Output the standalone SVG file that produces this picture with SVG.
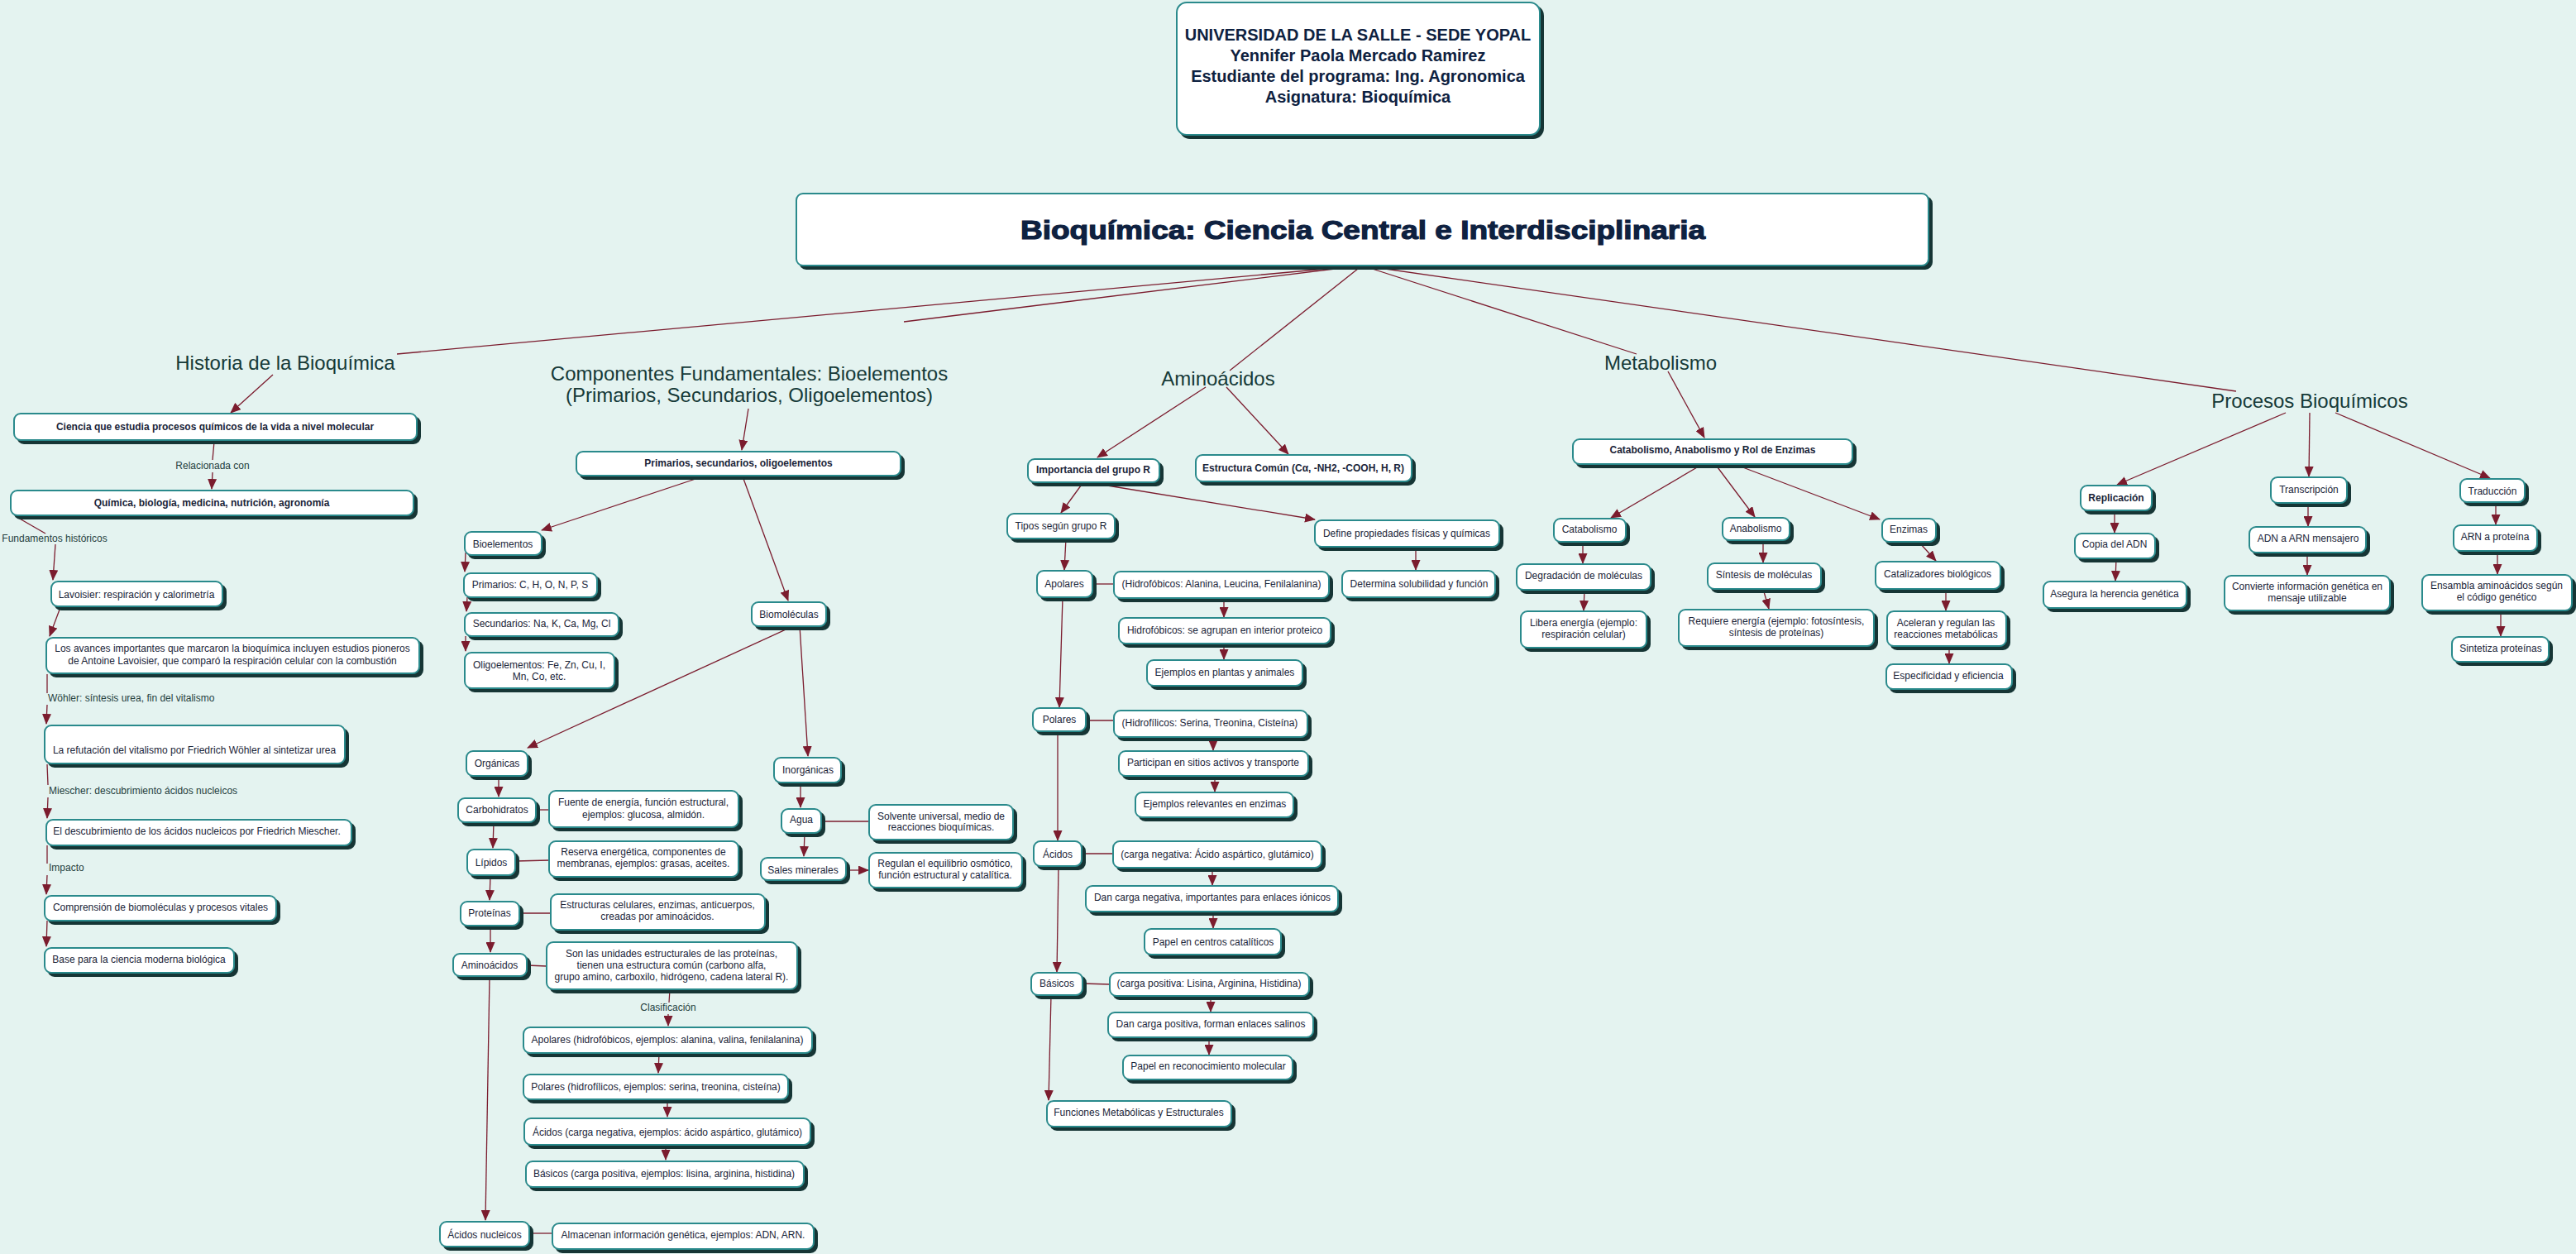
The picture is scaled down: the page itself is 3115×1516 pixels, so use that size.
<svg xmlns="http://www.w3.org/2000/svg" width="3115" height="1516" viewBox="0 0 3115 1516">
<style>
.b{fill:#fff;stroke:#2c8a8c;stroke-width:2;filter:url(#sh)}
.t{font-family:"Liberation Sans",Arial,sans-serif;font-size:12px;fill:#1a2438;text-anchor:middle}
.tb{font-family:"Liberation Sans",Arial,sans-serif;font-size:12px;font-weight:bold;fill:#1a2438;text-anchor:middle}
.cat{font-family:"Liberation Sans",Arial,sans-serif;font-size:24px;fill:#163a38;text-anchor:middle}
.lk{font-family:"Liberation Sans",Arial,sans-serif;font-size:12px;fill:#24403e}
.hd{font-family:"Liberation Sans",Arial,sans-serif;font-size:20px;font-weight:bold;fill:#0e2140;text-anchor:middle}
.ti{font-family:"Liberation Sans",Arial,sans-serif;font-size:32px;font-weight:bold;fill:#0e2140;stroke:#0e2140;stroke-width:1.2;text-anchor:middle}
.c{stroke:#7b1c2e;stroke-width:1.3;fill:none}
.a{marker-end:url(#ah)}
</style>
<defs>
<filter id="sh" x="-0.1" y="-0.3" width="1.3" height="1.8">
<feFlood flood-color="#163636"/>
<feComposite in2="SourceAlpha" operator="in"/>
<feOffset dx="4" dy="4"/>
<feMerge><feMergeNode/><feMergeNode in="SourceGraphic"/></feMerge>
</filter>
<marker id="ah" markerUnits="userSpaceOnUse" markerWidth="13" markerHeight="11" refX="12" refY="5.5" orient="auto" viewBox="0 0 13 11"><path d="M0,0 L13,5.5 L0,11 z" fill="#7b1c2e"/></marker>
</defs>
<rect width="3115" height="1516" fill="#e4f3f0"/>

<g id="connectors">
<path class="c" d="M1647,321 L480,428"/>
<path class="c" d="M1647,321 L1093,389"/>
<path class="c" d="M1647,321 L1487,448"/>
<path class="c" d="M1647,321 L1979,428"/>
<path class="c" d="M1647,321 L2704,473"/>
<path class="c a" d="M330,453 L279,499"/>
<path class="c" d="M259,534 L257,556"/>
<path class="c a" d="M257,571 L256,591"/>
<path class="c" d="M22,626 L55,645"/>
<path class="c a" d="M67,658 L64,701"/>
<path class="c a" d="M72,737 L60,769"/>
<path class="c" d="M57,815 L57,838"/>
<path class="c a" d="M57,852 L56,875"/>
<path class="c" d="M57,924 L58,949"/>
<path class="c a" d="M58,964 L57,989"/>
<path class="c" d="M57,1022 L57,1044"/>
<path class="c a" d="M57,1058 L56,1081"/>
<path class="c a" d="M57,1113 L56,1144"/>
<path class="c a" d="M905,494 L897,544"/>
<path class="c a" d="M853,575 L655,641"/>
<path class="c a" d="M898,576 L953,726"/>
<path class="c a" d="M563,668 L562,691"/>
<path class="c a" d="M565,722 L564,739"/>
<path class="c a" d="M563,769 L563,787"/>
<path class="c a" d="M959,757 L638,904"/>
<path class="c a" d="M967,757 L977,914"/>
<path class="c a" d="M603,938 L603,963"/>
<path class="c" d="M648,979 L664,979"/>
<path class="c a" d="M597,994 L596,1025"/>
<path class="c" d="M623,1041 L664,1040"/>
<path class="c a" d="M593,1058 L592,1088"/>
<path class="c" d="M628,1104 L666,1104"/>
<path class="c a" d="M593,1119 L593,1151"/>
<path class="c" d="M637,1167 L661,1168"/>
<path class="c" d="M810,1196 L809,1212"/>
<path class="c a" d="M808,1226 L808,1240"/>
<path class="c a" d="M797,1273 L796,1297"/>
<path class="c a" d="M807,1329 L807,1350"/>
<path class="c a" d="M805,1384 L805,1402"/>
<path class="c a" d="M592,1180 L587,1475"/>
<path class="c" d="M640,1491 L668,1491"/>
<path class="c a" d="M968,946 L968,976"/>
<path class="c" d="M993,993 L1051,993"/>
<path class="c a" d="M973,1007 L972,1035"/>
<path class="c a" d="M1023,1052 L1050,1052"/>
<path class="c a" d="M1458,468 L1327,553"/>
<path class="c a" d="M1483,468 L1558,549"/>
<path class="c a" d="M1310,583 L1283,620"/>
<path class="c a" d="M1333,586 L1590,628"/>
<path class="c a" d="M1712,661 L1712,689"/>
<path class="c a" d="M1289,651 L1287,689"/>
<path class="c" d="M1321,706 L1347,706"/>
<path class="c a" d="M1480,723 L1480,746"/>
<path class="c a" d="M1480,778 L1480,797"/>
<path class="c a" d="M1285,722 L1281,855"/>
<path class="c" d="M1313,871 L1347,871"/>
<path class="c a" d="M1467,891 L1467,907"/>
<path class="c a" d="M1469,938 L1469,957"/>
<path class="c a" d="M1279,884 L1279,1016"/>
<path class="c" d="M1308,1032 L1346,1032"/>
<path class="c a" d="M1466,1049 L1466,1070"/>
<path class="c a" d="M1467,1102 L1467,1122"/>
<path class="c a" d="M1280,1047 L1278,1175"/>
<path class="c" d="M1309,1189 L1342,1190"/>
<path class="c a" d="M1464,1204 L1464,1223"/>
<path class="c a" d="M1462,1254 L1462,1275"/>
<path class="c a" d="M1271,1203 L1268,1330"/>
<path class="c a" d="M2017,449 L2061,529"/>
<path class="c a" d="M2059,561 L1948,626"/>
<path class="c a" d="M2074,561 L2122,625"/>
<path class="c a" d="M2097,561 L2273,628"/>
<path class="c a" d="M1914,655 L1914,681"/>
<path class="c a" d="M1916,713 L1915,738"/>
<path class="c a" d="M2132,653 L2132,680"/>
<path class="c a" d="M2132,712 L2139,736"/>
<path class="c a" d="M2322,657 L2341,678"/>
<path class="c a" d="M2353,712 L2353,738"/>
<path class="c a" d="M2357,781 L2357,802"/>
<path class="c a" d="M2764,499 L2560,586"/>
<path class="c a" d="M2793,499 L2792,576"/>
<path class="c a" d="M2824,499 L3011,578"/>
<path class="c a" d="M2557,617 L2557,644"/>
<path class="c a" d="M2559,675 L2558,702"/>
<path class="c a" d="M2791,608 L2791,636"/>
<path class="c a" d="M2790,668 L2790,695"/>
<path class="c a" d="M3018,607 L3018,634"/>
<path class="c a" d="M3020,666 L3020,694"/>
<path class="c a" d="M3024,738 L3024,769"/>
</g>

<g id="header"><rect class="b" x="1423" y="3" width="439" height="160" rx="12"/>
<text class="hd" x="1642" y="49">UNIVERSIDAD DE LA SALLE - SEDE YOPAL</text>
<text class="hd" x="1642" y="74">Yennifer Paola Mercado Ramirez</text>
<text class="hd" x="1642" y="99">Estudiante del programa: Ing. Agronomica</text>
<text class="hd" x="1642" y="124">Asignatura: Bioquímica</text></g>
<g id="title"><rect class="b" x="963" y="234" width="1369" height="87" rx="8"/>
<text class="ti" x="1648" y="289" textLength="828" lengthAdjust="spacingAndGlyphs">Bioquímica: Ciencia Central e Interdisciplinaria</text></g>

<g id="cat-historia"><text class="cat" x="345" y="447">Historia de la Bioquímica</text></g>
<g id="cat-componentes"><text class="cat" x="906" y="460">Componentes Fundamentales: Bioelementos</text><text class="cat" x="906" y="486">(Primarios, Secundarios, Oligoelementos)</text></g>
<g id="cat-aminoacidos"><text class="cat" x="1473" y="466">Aminoácidos</text></g>
<g id="cat-metabolismo"><text class="cat" x="2008" y="447">Metabolismo</text></g>
<g id="cat-procesos"><text class="cat" x="2793" y="493">Procesos Bioquímicos</text></g>

<g id="links">
<text class="lk" x="257" y="567" text-anchor="middle">Relacionada con</text>
<text class="lk" x="66" y="655" text-anchor="middle">Fundamentos históricos</text>
<text class="lk" x="58" y="848">Wöhler: síntesis urea, fin del vitalismo</text>
<text class="lk" x="59" y="960">Miescher: descubrimiento ácidos nucleicos</text>
<text class="lk" x="59" y="1053">Impacto</text>
<text class="lk" x="808" y="1222" text-anchor="middle">Clasificación</text>
</g>

<g id="h1"><rect class="b" x="17" y="500" width="487" height="32" rx="8"/><text class="tb" x="260" y="520">Ciencia que estudia procesos químicos de la vida a nivel molecular</text></g>
<g id="h2"><rect class="b" x="13" y="593" width="487" height="30" rx="8"/><text class="tb" x="256" y="612">Química, biología, medicina, nutrición, agronomía</text></g>
<g id="h3"><rect class="b" x="62" y="703" width="207" height="30" rx="8"/><text class="t" x="165" y="723">Lavoisier: respiración y calorimetría</text></g>
<g id="h4"><rect class="b" x="56" y="771" width="451" height="43" rx="8"/><text class="t" x="281" y="788">Los avances importantes que marcaron la bioquímica incluyen estudios pioneros</text><text class="t" x="281" y="803">de Antoine Lavoisier, que comparó la respiración celular con la combustión</text></g>
<g id="h5"><rect class="b" x="54" y="877" width="363" height="46" rx="8"/><text class="t" x="235" y="911">La refutación del vitalismo por Friedrich Wöhler al sintetizar urea</text></g>
<g id="h6"><rect class="b" x="56" y="991" width="369" height="31" rx="8"/><text class="t" x="238" y="1009">El descubrimiento de los ácidos nucleicos por Friedrich Miescher.</text></g>
<g id="h7"><rect class="b" x="54" y="1083" width="280" height="30" rx="8"/><text class="t" x="194" y="1101">Comprensión de biomoléculas y procesos vitales</text></g>
<g id="h8"><rect class="b" x="54" y="1146" width="229" height="30" rx="8"/><text class="t" x="168" y="1164">Base para la ciencia moderna biológica</text></g>

<g id="c1"><rect class="b" x="697" y="546" width="392" height="29" rx="8"/><text class="tb" x="893" y="564">Primarios, secundarios, oligoelementos</text></g>
<g id="c2"><rect class="b" x="562" y="643" width="93" height="28" rx="8"/><text class="t" x="608" y="662">Bioelementos</text></g>
<g id="c3"><rect class="b" x="561" y="693" width="161" height="29" rx="8"/><text class="t" x="641" y="711">Primarios: C, H, O, N, P, S</text></g>
<g id="c4"><rect class="b" x="562" y="741" width="186" height="28" rx="8"/><text class="t" x="655" y="758">Secundarios: Na, K, Ca, Mg, Cl</text></g>
<g id="c5"><rect class="b" x="562" y="789" width="181" height="43" rx="8"/><text class="t" x="652" y="808">Oligoelementos: Fe, Zn, Cu, I,</text><text class="t" x="652" y="822">Mn, Co, etc.</text></g>
<g id="c6"><rect class="b" x="909" y="728" width="90" height="29" rx="8"/><text class="t" x="954" y="747">Biomoléculas</text></g>
<g id="c7"><rect class="b" x="564" y="908" width="74" height="30" rx="8"/><text class="t" x="601" y="927">Orgánicas</text></g>
<g id="c8"><rect class="b" x="554" y="965" width="94" height="29" rx="8"/><text class="t" x="601" y="983">Carbohidratos</text></g>
<g id="c9"><rect class="b" x="664" y="956" width="229" height="44" rx="8"/><text class="t" x="778" y="974">Fuente de energía, función estructural,</text><text class="t" x="778" y="989">ejemplos: glucosa, almidón.</text></g>
<g id="c10"><rect class="b" x="565" y="1027" width="58" height="31" rx="8"/><text class="t" x="594" y="1047">Lípidos</text></g>
<g id="c11"><rect class="b" x="664" y="1017" width="229" height="43" rx="8"/><text class="t" x="778" y="1034">Reserva energética, componentes de</text><text class="t" x="778" y="1048">membranas, ejemplos: grasas, aceites.</text></g>
<g id="c12"><rect class="b" x="557" y="1090" width="71" height="29" rx="8"/><text class="t" x="592" y="1108">Proteínas</text></g>
<g id="c13"><rect class="b" x="666" y="1081" width="259" height="43" rx="8"/><text class="t" x="795" y="1098">Estructuras celulares, enzimas, anticuerpos,</text><text class="t" x="795" y="1112">creadas por aminoácidos.</text></g>
<g id="c14"><rect class="b" x="548" y="1153" width="89" height="27" rx="8"/><text class="t" x="592" y="1171">Aminoácidos</text></g>
<g id="c15"><rect class="b" x="661" y="1139" width="303" height="57" rx="8"/><text class="t" x="812" y="1157">Son las unidades estructurales de las proteínas,</text><text class="t" x="812" y="1171">tienen una estructura común (carbono alfa,</text><text class="t" x="812" y="1185">grupo amino, carboxilo, hidrógeno, cadena lateral R).</text></g>
<g id="c16"><rect class="b" x="633" y="1242" width="349" height="31" rx="8"/><text class="t" x="807" y="1261">Apolares (hidrofóbicos, ejemplos: alanina, valina, fenilalanina)</text></g>
<g id="c17"><rect class="b" x="633" y="1299" width="320" height="30" rx="8"/><text class="t" x="793" y="1318">Polares (hidrofílicos, ejemplos: serina, treonina, cisteína)</text></g>
<g id="c18"><rect class="b" x="634" y="1352" width="346" height="32" rx="8"/><text class="t" x="807" y="1373">Ácidos (carga negativa, ejemplos: ácido aspártico, glutámico)</text></g>
<g id="c19"><rect class="b" x="636" y="1404" width="336" height="31" rx="8"/><text class="t" x="803" y="1423">Básicos (carga positiva, ejemplos: lisina, arginina, histidina)</text></g>
<g id="c20"><rect class="b" x="532" y="1477" width="108" height="30" rx="8"/><text class="t" x="586" y="1497">Ácidos nucleicos</text></g>
<g id="c21"><rect class="b" x="668" y="1479" width="316" height="31" rx="8"/><text class="t" x="826" y="1497">Almacenan información genética, ejemplos: ADN, ARN.</text></g>
<g id="c22"><rect class="b" x="936" y="916" width="81" height="30" rx="8"/><text class="t" x="977" y="935">Inorgánicas</text></g>
<g id="c23"><rect class="b" x="945" y="978" width="48" height="29" rx="8"/><text class="t" x="969" y="995">Agua</text></g>
<g id="c24"><rect class="b" x="1051" y="973" width="174" height="42" rx="8"/><text class="t" x="1138" y="991">Solvente universal, medio de</text><text class="t" x="1138" y="1004">reacciones bioquímicas.</text></g>
<g id="c25"><rect class="b" x="920" y="1037" width="103" height="27" rx="8"/><text class="t" x="971" y="1056">Sales minerales</text></g>
<g id="c26"><rect class="b" x="1051" y="1031" width="185" height="42" rx="8"/><text class="t" x="1143" y="1048">Regulan el equilibrio osmótico,</text><text class="t" x="1143" y="1062">función estructural y catalítica.</text></g>

<g id="a1"><rect class="b" x="1243" y="555" width="159" height="28" rx="8"/><text class="tb" x="1322" y="572">Importancia del grupo R</text></g>
<g id="a2"><rect class="b" x="1446" y="550" width="261" height="32" rx="8"/><text class="tb" x="1576" y="570">Estructura Común (Cα, -NH2, -COOH, H, R)</text></g>
<g id="a3"><rect class="b" x="1218" y="621" width="130" height="30" rx="8"/><text class="t" x="1283" y="640">Tipos según grupo R</text></g>
<g id="a4"><rect class="b" x="1590" y="629" width="223" height="32" rx="8"/><text class="t" x="1701" y="649">Define propiedades físicas y químicas</text></g>
<g id="a5"><rect class="b" x="1623" y="690" width="185" height="32" rx="8"/><text class="t" x="1716" y="710">Determina solubilidad y función</text></g>
<g id="a6"><rect class="b" x="1254" y="690" width="67" height="32" rx="8"/><text class="t" x="1287" y="710">Apolares</text></g>
<g id="a7"><rect class="b" x="1347" y="691" width="260" height="32" rx="8"/><text class="t" x="1477" y="710">(Hidrofóbicos: Alanina, Leucina, Fenilalanina)</text></g>
<g id="a8"><rect class="b" x="1353" y="747" width="256" height="31" rx="8"/><text class="t" x="1481" y="766">Hidrofóbicos: se agrupan en interior proteico</text></g>
<g id="a9"><rect class="b" x="1387" y="798" width="188" height="31" rx="8"/><text class="t" x="1481" y="817">Ejemplos en plantas y animales</text></g>
<g id="a10"><rect class="b" x="1249" y="856" width="64" height="28" rx="8"/><text class="t" x="1281" y="874">Polares</text></g>
<g id="a11"><rect class="b" x="1347" y="859" width="234" height="32" rx="8"/><text class="t" x="1463" y="878">(Hidrofílicos: Serina, Treonina, Cisteína)</text></g>
<g id="a12"><rect class="b" x="1353" y="908" width="229" height="30" rx="8"/><text class="t" x="1467" y="926">Participan en sitios activos y transporte</text></g>
<g id="a13"><rect class="b" x="1373" y="958" width="191" height="30" rx="8"/><text class="t" x="1469" y="976">Ejemplos relevantes en enzimas</text></g>
<g id="a14"><rect class="b" x="1250" y="1017" width="58" height="30" rx="8"/><text class="t" x="1279" y="1037">Ácidos</text></g>
<g id="a15"><rect class="b" x="1346" y="1017" width="252" height="32" rx="8"/><text class="t" x="1472" y="1037">(carga negativa: Ácido aspártico, glutámico)</text></g>
<g id="a16"><rect class="b" x="1313" y="1071" width="305" height="31" rx="8"/><text class="t" x="1466" y="1089">Dan carga negativa, importantes para enlaces iónicos</text></g>
<g id="a17"><rect class="b" x="1384" y="1123" width="165" height="31" rx="8"/><text class="t" x="1467" y="1143">Papel en centros catalíticos</text></g>
<g id="a18"><rect class="b" x="1247" y="1176" width="62" height="27" rx="8"/><text class="t" x="1278" y="1193">Básicos</text></g>
<g id="a19"><rect class="b" x="1342" y="1176" width="241" height="28" rx="8"/><text class="t" x="1462" y="1193">(carga positiva: Lisina, Arginina, Histidina)</text></g>
<g id="a20"><rect class="b" x="1340" y="1224" width="248" height="30" rx="8"/><text class="t" x="1464" y="1242">Dan carga positiva, forman enlaces salinos</text></g>
<g id="a21"><rect class="b" x="1358" y="1276" width="205" height="29" rx="8"/><text class="t" x="1461" y="1293">Papel en reconocimiento molecular</text></g>
<g id="a22"><rect class="b" x="1266" y="1331" width="223" height="31" rx="8"/><text class="t" x="1377" y="1349">Funciones Metabólicas y Estructurales</text></g>

<g id="m1"><rect class="b" x="1902" y="531" width="338" height="30" rx="8"/><text class="tb" x="2071" y="548">Catabolismo, Anabolismo y Rol de Enzimas</text></g>
<g id="m2"><rect class="b" x="1879" y="627" width="87" height="28" rx="8"/><text class="t" x="1922" y="644">Catabolismo</text></g>
<g id="m3"><rect class="b" x="2083" y="626" width="81" height="27" rx="8"/><text class="t" x="2123" y="643">Anabolismo</text></g>
<g id="m4"><rect class="b" x="2276" y="627" width="65" height="28" rx="8"/><text class="t" x="2308" y="644">Enzimas</text></g>
<g id="m5"><rect class="b" x="1834" y="682" width="162" height="31" rx="8"/><text class="t" x="1915" y="700">Degradación de moléculas</text></g>
<g id="m6"><rect class="b" x="1839" y="739" width="152" height="44" rx="8"/><text class="t" x="1915" y="757">Libera energía (ejemplo:</text><text class="t" x="1915" y="771">respiración celular)</text></g>
<g id="m7"><rect class="b" x="2065" y="681" width="137" height="31" rx="8"/><text class="t" x="2133" y="699">Síntesis de moléculas</text></g>
<g id="m8"><rect class="b" x="2030" y="737" width="236" height="44" rx="8"/><text class="t" x="2148" y="755">Requiere energía (ejemplo: fotosíntesis,</text><text class="t" x="2148" y="769">síntesis de proteínas)</text></g>
<g id="m9"><rect class="b" x="2268" y="679" width="151" height="33" rx="8"/><text class="t" x="2343" y="698">Catalizadores biológicos</text></g>
<g id="m10"><rect class="b" x="2282" y="739" width="144" height="42" rx="8"/><text class="t" x="2353" y="757">Aceleran y regulan las</text><text class="t" x="2353" y="771">reacciones metabólicas</text></g>
<g id="m11"><rect class="b" x="2281" y="803" width="152" height="30" rx="8"/><text class="t" x="2356" y="821">Especificidad y eficiencia</text></g>

<g id="p1"><rect class="b" x="2516" y="587" width="86" height="30" rx="8"/><text class="tb" x="2559" y="606">Replicación</text></g>
<g id="p2"><rect class="b" x="2746" y="577" width="92" height="31" rx="8"/><text class="t" x="2792" y="596">Transcripción</text></g>
<g id="p3"><rect class="b" x="2975" y="579" width="78" height="28" rx="8"/><text class="t" x="3014" y="598">Traducción</text></g>
<g id="p4"><rect class="b" x="2509" y="645" width="97" height="30" rx="8"/><text class="t" x="2557" y="662">Copia del ADN</text></g>
<g id="p5"><rect class="b" x="2471" y="703" width="173" height="32" rx="8"/><text class="t" x="2557" y="722">Asegura la herencia genética</text></g>
<g id="p6"><rect class="b" x="2720" y="637" width="141" height="31" rx="8"/><text class="t" x="2791" y="655">ADN a ARN mensajero</text></g>
<g id="p7"><rect class="b" x="2690" y="696" width="200" height="42" rx="8"/><text class="t" x="2790" y="713">Convierte información genética en</text><text class="t" x="2790" y="727">mensaje utilizable</text></g>
<g id="p8"><rect class="b" x="2967" y="635" width="101" height="31" rx="8"/><text class="t" x="3017" y="653">ARN a proteína</text></g>
<g id="p9"><rect class="b" x="2929" y="695" width="181" height="43" rx="8"/><text class="t" x="3019" y="712">Ensambla aminoácidos según</text><text class="t" x="3019" y="726">el código genético</text></g>
<g id="p10"><rect class="b" x="2965" y="770" width="117" height="30" rx="8"/><text class="t" x="3024" y="788">Sintetiza proteínas</text></g>
</svg>
